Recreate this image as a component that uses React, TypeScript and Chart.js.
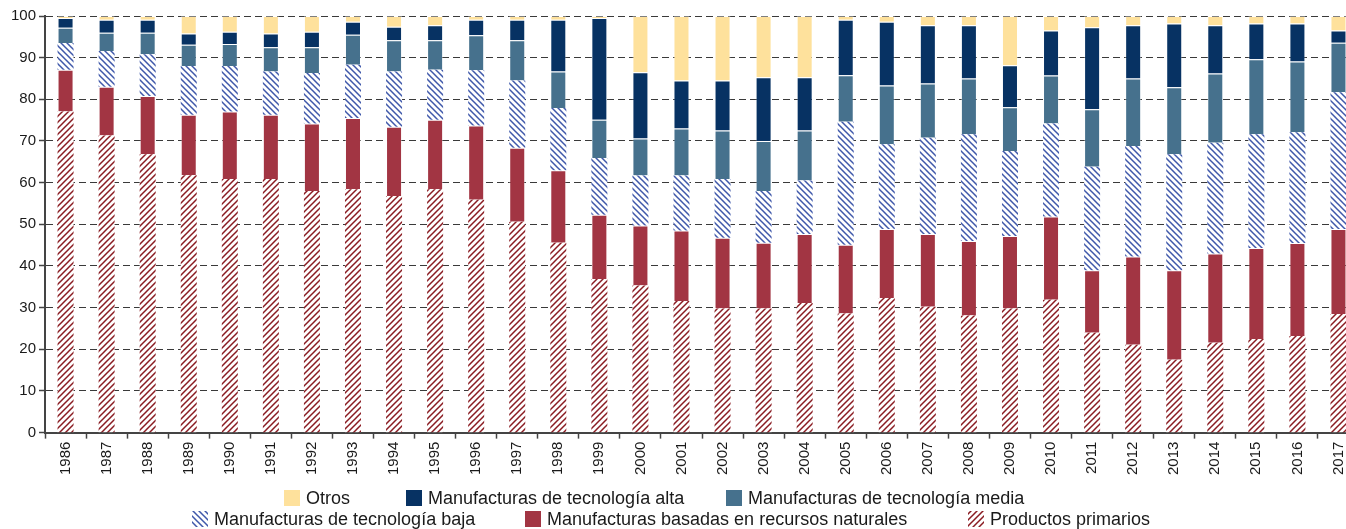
import React, { useEffect, useRef } from "react";
import { Chart, registerables } from "chart.js";

Chart.register(...registerables);

const years = [
  "1986", "1987", "1988", "1989", "1990", "1991", "1992", "1993", "1994", "1995",
  "1996", "1997", "1998", "1999", "2000", "2001", "2002", "2003", "2004", "2005",
  "2006", "2007", "2008", "2009", "2010", "2011", "2012", "2013", "2014", "2015",
  "2016", "2017",
];

const productosPrimarios = [
  77.1, 71.3, 66.8, 61.8, 60.9, 60.9, 58.0, 58.4, 56.8, 58.4,
  55.9, 50.6, 45.6, 36.9, 35.3, 31.6, 29.8, 29.8, 31.1, 28.6,
  32.3, 30.2, 28.1, 29.8, 31.9, 24.0, 21.1, 17.5, 21.6, 22.5,
  23.2, 28.5,
];
const recursosNaturales = [
  10.0, 11.7, 14.0, 14.5, 16.2, 15.4, 16.2, 17.1, 16.6, 16.7,
  17.8, 17.8, 17.4, 15.4, 14.4, 16.9, 17.0, 15.8, 16.6, 16.5,
  16.6, 17.5, 17.9, 17.4, 20.0, 15.0, 21.2, 21.5, 21.4, 21.8,
  22.3, 20.4,
];
const tecnologiaBaja = [
  6.4, 8.6, 10.0, 11.7, 10.9, 10.4, 12.1, 12.8, 13.3, 12.0,
  13.3, 16.1, 14.9, 13.6, 12.0, 13.2, 14.1, 12.4, 12.8, 29.5,
  20.3, 23.1, 25.6, 20.4, 22.3, 24.8, 26.5, 27.8, 26.6, 27.3,
  26.6, 32.8,
];
const tecnologiaMedia = [
  3.7, 4.4, 5.2, 5.1, 5.3, 5.8, 6.2, 7.2, 7.5, 7.1,
  8.4, 9.7, 8.8, 9.2, 8.9, 11.3, 11.6, 12.0, 12.0, 11.2,
  14.1, 13.0, 13.4, 10.5, 11.5, 13.8, 16.2, 16.1, 16.6, 18.0,
  17.0, 11.9,
];
const tecnologiaAlta = [
  2.3, 3.1, 3.1, 2.7, 2.9, 3.3, 3.7, 3.1, 3.2, 3.6,
  3.7, 4.9, 12.4, 24.4, 15.9, 11.5, 12.0, 15.3, 12.8, 13.3,
  15.3, 14.0, 12.8, 10.1, 10.8, 19.7, 12.8, 15.3, 11.6, 8.6,
  9.1, 2.9,
];
const otros = [
  0.5, 0.9, 0.9, 4.2, 3.8, 4.2, 3.8, 1.4, 2.6, 2.2,
  0.9, 0.9, 0.9, 0.5, 13.5, 15.5, 15.5, 14.7, 14.7, 0.9,
  1.4, 2.2, 2.2, 11.8, 3.5, 2.7, 2.2, 1.8, 2.2, 1.8,
  1.8, 3.5,
];
const yTicks = [0, 10, 20, 30, 40, 50, 60, 70, 80, 90, 100];

const FONT = '"Liberation Sans", Arial, Helvetica, sans-serif';

function makeHatch(color: string, forward: boolean): CanvasPattern | string {
  const s = 6;
  const c = document.createElement("canvas");
  c.width = s;
  c.height = s;
  const g = c.getContext("2d");
  if (!g) return color;
  g.fillStyle = "#ffffff";
  g.fillRect(0, 0, s, s);
  g.strokeStyle = color;
  g.lineWidth = 1.5;
  g.lineCap = "square";
  g.beginPath();
  if (forward) {
    g.moveTo(0, s);
    g.lineTo(s, 0);
    g.moveTo(-1, 1);
    g.lineTo(1, -1);
    g.moveTo(s - 1, s + 1);
    g.lineTo(s + 1, s - 1);
  } else {
    g.moveTo(0, 0);
    g.lineTo(s, s);
    g.moveTo(-1, s - 1);
    g.lineTo(1, s + 1);
    g.moveTo(s - 1, -1);
    g.lineTo(s + 1, 1);
  }
  g.stroke();
  const p = g.createPattern(c, "repeat");
  return p || color;
}

// legend layout: dataset index, left x of swatch, row centre y
const legendRows = [
  { items: [5, 4, 3], xs: [284, 406, 726], cy: 498 },
  { items: [2, 1, 0], xs: [192, 525, 968], cy: 519 },
];

const legendPlugin = {
  id: "twoRowLegend",
  afterDraw(chart: any) {
    const ctx = chart.ctx as CanvasRenderingContext2D;
    const dsets = chart.data.datasets;
    ctx.save();
    ctx.font = "18px " + FONT;
    ctx.textBaseline = "middle";
    ctx.textAlign = "left";
    const box = 16;
    const boxGap = 6;
    for (const row of legendRows) {
      row.items.forEach((i, k) => {
        const x = row.xs[k];
        ctx.fillStyle = dsets[i].backgroundColor;
        ctx.fillRect(x, row.cy - box / 2, box, box);
        ctx.fillStyle = "#1a1a1a";
        ctx.fillText(dsets[i].label, x + box + boxGap, row.cy + 1);
      });
    }
    ctx.restore();
  },
};

export default function App() {
  const ref = useRef<HTMLCanvasElement | null>(null);

  useEffect(() => {
    if (!ref.current) return;
    const hatchRed = makeHatch("#8a1c22", true);
    const hatchBlue = makeHatch("#3f58aa", false);
    const edge = "rgba(255,255,255,0.35)";
    const chart = new Chart(ref.current, {
      type: "bar",
      data: {
        labels: years,
        datasets: [
          { label: "Productos primarios", data: productosPrimarios, backgroundColor: hatchRed as any, borderColor: edge, borderWidth: 0 },
          { label: "Manufacturas basadas en recursos naturales", data: recursosNaturales, backgroundColor: "#a23543", borderColor: edge, borderWidth: 1 },
          { label: "Manufacturas de tecnología baja", data: tecnologiaBaja, backgroundColor: hatchBlue as any, borderColor: edge, borderWidth: 0 },
          { label: "Manufacturas de tecnología media", data: tecnologiaMedia, backgroundColor: "#46718d", borderColor: edge, borderWidth: 1 },
          { label: "Manufacturas de tecnología alta", data: tecnologiaAlta, backgroundColor: "#073263", borderColor: edge, borderWidth: 1 },
          { label: "Otros", data: otros, backgroundColor: "#fee19c", borderColor: edge, borderWidth: 1 },
        ],
      },
      options: {
        animation: false,
        responsive: false,
        devicePixelRatio: 1,
        layout: { padding: { left: 8, right: 3, top: 16, bottom: 51 } },
        datasets: {
          bar: { categoryPercentage: 1, barPercentage: 0.39 },
        },
        plugins: {
          legend: { display: false },
          tooltip: { enabled: false },
        },
        scales: {
          x: {
            stacked: true,
            offset: true,
            grid: {
              display: true,
              drawOnChartArea: false,
              drawTicks: true,
              offset: true,
              tickLength: 6,
              tickColor: "#444",
              tickWidth: 1.5,
              color: "#444",
            },
            border: { display: true, color: "#444", width: 2 },
            ticks: {
              autoSkip: false,
              maxRotation: 90,
              minRotation: 90,
              padding: 3,
              color: "#1a1a1a",
              font: { family: FONT, size: 15 },
            },
          },
          y: {
            stacked: true,
            min: 0,
            max: 100,
            afterBuildTicks: (axis: any) => {
              axis.ticks = yTicks.map((v) => ({ value: v }));
            },
            grid: {
              color: "#3a3a3a",
              lineWidth: 1,
              drawTicks: true,
              tickLength: 6,
              tickColor: "#444",
              tickWidth: 1.5,
            },
            border: { display: true, color: "#444", width: 2, dash: [7, 4] },
            ticks: {
              padding: 3,
              color: "#1a1a1a",
              font: { family: FONT, size: 15 },
            },
          },
        },
      },
      plugins: [legendPlugin],
    });
    return () => chart.destroy();
  }, []);

  return (
    <div
      style={{
        position: "fixed",
        left: 0,
        top: 0,
        width: 1346,
        height: 529,
        overflow: "hidden",
        background: "#ffffff",
      }}
    >
      <canvas
        ref={ref}
        width={1362}
        height={529}
        style={{ width: 1362, height: 529, display: "block" }}
      />
    </div>
  );
}
